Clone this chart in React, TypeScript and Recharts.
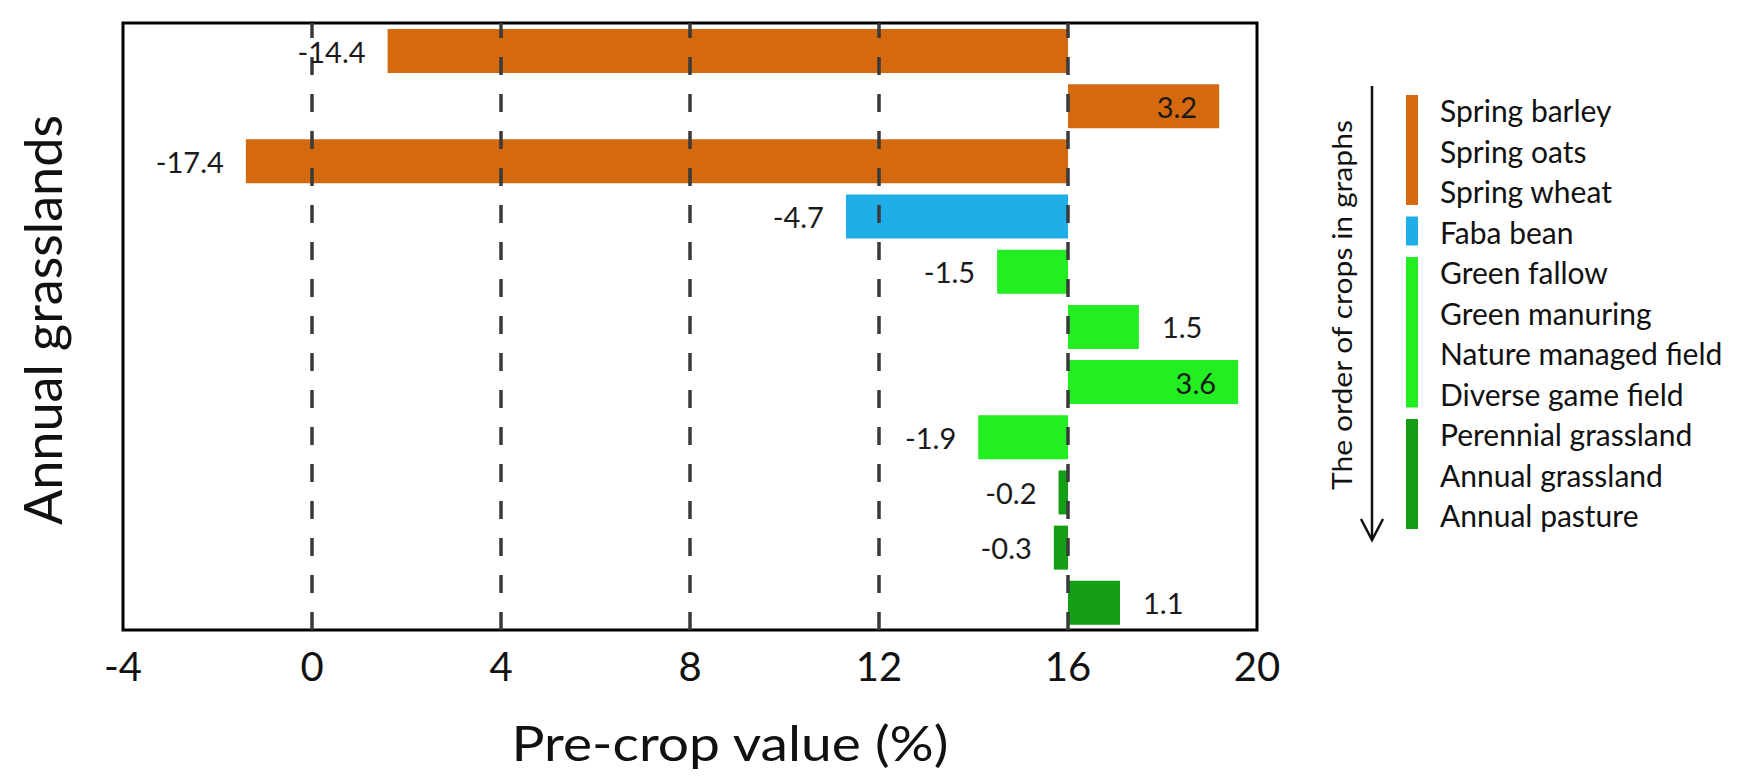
import React from 'react';
import { BarChart, Bar, XAxis, YAxis, Cell, LabelList, ReferenceLine, ReferenceArea } from 'recharts';

// crops in the order they appear in the graph
const categories = [
  'Spring barley',
  'Spring oats',
  'Spring wheat',
  'Faba bean',
  'Green fallow',
  'Green manuring',
  'Nature managed field',
  'Diverse game field',
  'Perennial grassland',
  'Annual grassland',
  'Annual pasture',
];
const values = [-14.4, 3.2, -17.4, -4.7, -1.5, 1.5, 3.6, -1.9, -0.2, -0.3, 1.1];
const groups = ['cereal', 'cereal', 'cereal', 'legume', 'green', 'green', 'green', 'green', 'grass', 'grass', 'grass'];
const xTicks = [-4, 0, 4, 8, 12, 16, 20];
const gridLines = [0, 4, 8, 12, 16];
const baseline = 16;

const groupColors: Record<string, string> = {
  cereal: '#D4690F',
  legume: '#1FAFE8',
  green: '#22EE22',
  grass: '#139E13',
};

const FONT = 'Lato, "Noto Sans", sans-serif';

const data = categories.map((name, i) => ({
  name,
  v: values[i],
  range: values[i] < 0 ? [baseline + values[i], baseline] : [baseline, baseline + values[i]],
}));

const renderLabel = (props: any) => {
  const { x, y, width, height, value } = props;
  const cy = y + height / 2;
  let tx = x - 22;
  let anchor = 'end';
  if (value > 2) {
    tx = x + width - 22;
  } else if (value > 0) {
    tx = x + width + 23;
    anchor = 'start';
  }
  return (
    <text x={tx} y={cy} textAnchor={anchor} dominantBaseline="central" fontSize={29} fontFamily={FONT} fill="#1a1a1a">
      {value}
    </text>
  );
};

// legend rows
const rowTop = 110;
const rowStep = 40.5;
const legendGroups = ['cereal', 'legume', 'green', 'grass'].map((g) => {
  const idx = groups.map((x, i) => (x === g ? i : -1)).filter((i) => i >= 0);
  return { g, first: idx[0], last: idx[idx.length - 1] };
});

const App: React.FC = () => {
  return (
    <div style={{ position: 'absolute', left: 0, top: 0, width: 1750, height: 781, background: '#fff' }}>
      <BarChart
        width={1750}
        height={781}
        data={data}
        layout="vertical"
        margin={{ top: 23, right: 493, bottom: 91, left: 123 }}
        barSize={44}
      >
        <XAxis
          type="number"
          domain={[-4, 20]}
          ticks={xTicks}
          axisLine={false}
          tickLine={false}
          tickMargin={17}
          height={60}
          allowDataOverflow
          tick={{ fontSize: 40, fill: '#111', fontFamily: FONT }}
        />
        <YAxis type="category" dataKey="name" hide />
        {gridLines.map((x) => (
          <ReferenceLine key={x} x={x} stroke="#3a3a3a" strokeWidth={3.5} strokeDasharray="18 19" />
        ))}
        <Bar dataKey="range" isAnimationActive={false}>
          {data.map((d, i) => (
            <Cell key={d.name} fill={groupColors[groups[i]]} />
          ))}
          <LabelList dataKey="v" content={renderLabel} />
        </Bar>
        <ReferenceArea x1={-4} x2={20} fill="none" fillOpacity={0} stroke="#000" strokeWidth={3} ifOverflow="visible" />
      </BarChart>

      <svg
        width={1750}
        height={781}
        style={{ position: 'absolute', left: 0, top: 0, pointerEvents: 'none' }}
        fontFamily={FONT}
      >
        <text
          x={42}
          y={320}
          transform="rotate(-90 42 320)"
          textAnchor="middle"
          dominantBaseline="central"
          fontSize={52}
          textLength={410}
          lengthAdjust="spacingAndGlyphs"
          fill="#111"
        >
          Annual grasslands
        </text>
        <text
          x={730}
          y={742}
          textAnchor="middle"
          dominantBaseline="central"
          fontSize={48}
          textLength={437}
          lengthAdjust="spacingAndGlyphs"
          fill="#111"
        >
          Pre-crop value (%)
        </text>

        {/* order arrow */}
        <line x1={1372} y1={86} x2={1372} y2={539} stroke="#111" strokeWidth={2.5} />
        <polyline points="1361,519 1372,540 1383,519" fill="none" stroke="#111" strokeWidth={2.5} />
        <text
          x={1341}
          y={305}
          transform="rotate(-90 1341 305)"
          textAnchor="middle"
          dominantBaseline="central"
          fontSize={27}
          textLength={370}
          lengthAdjust="spacingAndGlyphs"
          fill="#111"
        >
          The order of crops in graphs
        </text>

        {legendGroups.map(({ g, first, last }) => (
          <rect
            key={g}
            x={1406}
            y={rowTop + first * rowStep - 15}
            width={12}
            height={(last - first) * rowStep + 29}
            fill={groupColors[g]}
          />
        ))}
        {categories.map((c, i) => (
          <text key={c} x={1440} y={rowTop + i * rowStep} dominantBaseline="central" fontSize={30} fill="#111">
            {c}
          </text>
        ))}
      </svg>
    </div>
  );
};

export default App;
